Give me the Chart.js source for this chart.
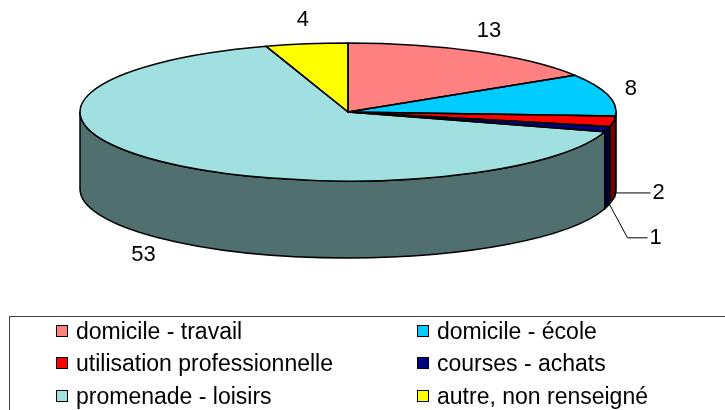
<!DOCTYPE html>
<html>
<head>
<meta charset="utf-8">
<script src="https://cdn.jsdelivr.net/npm/chart.js@4.4.1/dist/chart.umd.min.js"></script>
<style>
  body { margin: 0; background: #fff; font-family: "Liberation Sans", Arial, sans-serif; }
  #wrap { position: relative; width: 725px; height: 410px; overflow: hidden; }
  #legend { position: absolute; left: 9px; top: 316px; width: 740px; height: 120px;
            border: 1px solid #404040; box-sizing: border-box; }
  .item { position: absolute; font-size: 23px; line-height: 23px; white-space: nowrap; color: #000; }
  .sw { display: inline-block; width: 10px; height: 10px; border: 1px solid #000;
        margin-right: 8px; vertical-align: middle; position: relative; top: -1px; }
</style>
</head>
<body>
<div id="wrap">
  <canvas id="pie" width="725" height="410"></canvas>
  <div id="legend"></div>
</div>
<script>
// data
const categories = ['domicile - travail', 'domicile - école', 'utilisation professionnelle',
                    'courses - achats', 'promenade - loisirs', 'autre, non renseigné'];
const values = [13, 8, 2, 1, 53, 4];
const topColors = ['#FF8080', '#00CCFF', '#FF0000', '#000080', '#A0E0E0', '#FFFF00'];
const sideColors = ['#804040', '#006680', '#800000', '#000040', '#507070', '#808000'];

// ellipse geometry of the 3d pie
const G = { x: 348, y: 112, rx: 268, ry: 69, depth: 77 };
const FONT = '22px "Liberation Sans", Arial, sans-serif';
const total = values.reduce((a, b) => a + b, 0);

const pie3d = {
  id: 'pie3d',
  beforeDatasetsDraw(chart) {
    const ctx = chart.ctx;
    const arcs = chart.getDatasetMeta(0).data;
    // side walls (front half only)
    ctx.save();
    arcs.forEach((arc, i) => {
      const s = Math.max(arc.startAngle, 0);
      const e = Math.min(arc.endAngle, Math.PI);
      if (e <= s) return;
      ctx.beginPath();
      ctx.ellipse(G.x, G.y, G.rx, G.ry, 0, s, e);
      ctx.ellipse(G.x, G.y + G.depth, G.rx, G.ry, 0, e, s, true);
      ctx.closePath();
      ctx.fillStyle = sideColors[i];
      ctx.fill();
      ctx.lineWidth = 1.5;
      ctx.strokeStyle = '#000';
      ctx.stroke();
    });
    ctx.restore();
    // squash the library's circle into the top ellipse
    const a = arcs[0];
    const R = a.outerRadius;
    ctx.save();
    ctx.translate(G.x, G.y);
    ctx.scale(G.rx / R, G.ry / R);
    ctx.translate(-a.x, -a.y);
  },
  afterDatasetsDraw(chart) {
    const ctx = chart.ctx;
    ctx.restore();
    const arcs = chart.getDatasetMeta(0).data;
    ctx.save();
    ctx.lineWidth = 1.5;
    ctx.strokeStyle = '#000';
    ctx.lineJoin = 'round';
    arcs.forEach(arc => {
      ctx.beginPath();
      ctx.moveTo(G.x, G.y);
      ctx.ellipse(G.x, G.y, G.rx, G.ry, 0, arc.startAngle, arc.endAngle);
      ctx.closePath();
      ctx.stroke();
    });
    ctx.restore();
  },
  afterDraw(chart) {
    const ctx = chart.ctx;
    const arcs = chart.getDatasetMeta(0).data;
    ctx.save();
    ctx.font = FONT;
    ctx.fillStyle = '#000';
    ctx.strokeStyle = '#000';
    ctx.lineWidth = 1;
    ctx.textBaseline = 'middle';
    let small = 0;
    arcs.forEach((arc, i) => {
      const mid = (arc.startAngle + arc.endAngle) / 2;
      const c = Math.cos(mid), s = Math.sin(mid);
      const txt = String(values[i]);
      if (values[i] / total < 0.03) {
        // leader line from the side wall
        const x0 = G.x + G.rx * c, y0 = G.y + G.ry * s + G.depth * 0.93;
        let ex = x0, ey = y0;
        ctx.beginPath();
        ctx.moveTo(x0, y0);
        if (small > 0) { ex = x0 + 20; ey = y0 + 37; ctx.lineTo(ex, ey); }
        const endX = small > 0 ? ex + 20 : x0 + 37;
        ctx.lineTo(endX, ey);
        ctx.stroke();
        ctx.textAlign = 'left';
        ctx.fillText(txt, endX + 2, ey);
        small++;
      } else {
        const px = G.x + G.rx * c + c * 24;
        const py = G.y + G.ry * s + (s > 0 ? G.depth : 0) + s * 24;
        ctx.textAlign = 'center';
        ctx.fillText(txt, px, py);
      }
    });
    ctx.restore();
  }
};

new Chart(document.getElementById('pie'), {
  type: 'pie',
  data: {
    labels: categories,
    datasets: [{
      data: values,
      backgroundColor: topColors,
      borderWidth: 0,
      clip: false
    }]
  },
  options: {
    responsive: false,
    animation: false,
    events: [],
    plugins: {
      legend: { display: false },
      tooltip: { enabled: false }
    }
  },
  plugins: [pie3d]
});

// legend box, two columns
const legend = document.getElementById('legend');
const colX = [46, 407];
const rowY = [331, 363, 396];
categories.forEach((name, i) => {
  const el = document.createElement('div');
  el.className = 'item';
  el.style.left = colX[i % 2] + 'px';
  el.style.top = (rowY[Math.floor(i / 2)] - 11.5 - 317) + 'px';
  const sw = document.createElement('span');
  sw.className = 'sw';
  sw.style.background = topColors[i];
  el.appendChild(sw);
  el.appendChild(document.createTextNode(name));
  legend.appendChild(el);
});
</script>
</body>
</html>
